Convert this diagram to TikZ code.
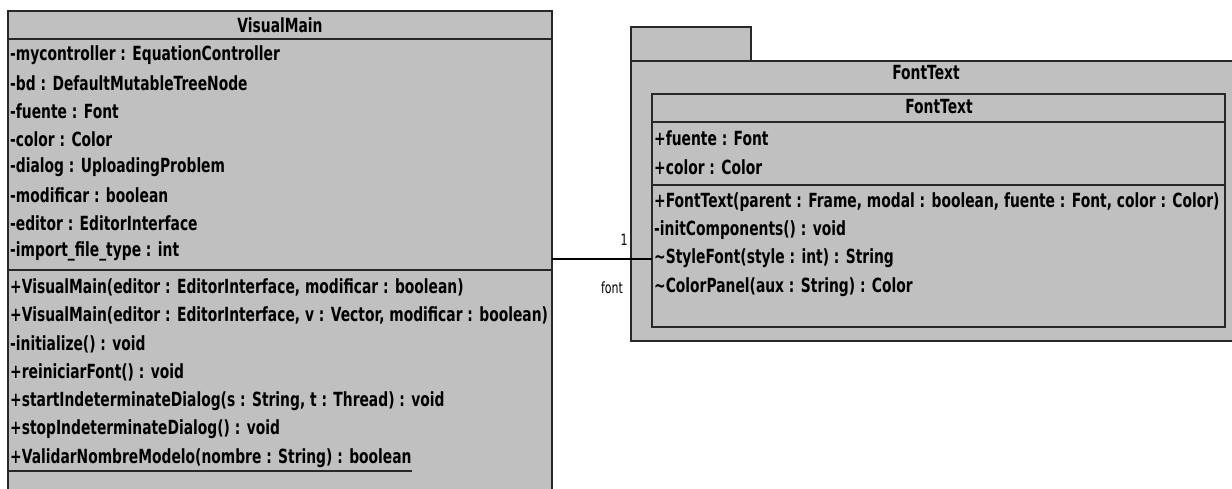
\documentclass[tikz,border=0pt]{standalone}
\usepackage{fontspec}
\setmainfont{DejaVu Sans}
\newfontfamily\umlfont{DejaVu Sans}[FakeStretch=0.71]
\definecolor{boxfill}{RGB}{192,192,192}
\definecolor{linec}{RGB}{40,40,40}
\tikzset{
  box/.style={draw=linec, fill=boxfill, line width=1.6pt, rectangle, inner sep=0pt, outer sep=0pt},
  sepline/.style={draw=linec, line width=1.6pt},
  txt/.style={anchor=west, inner sep=0pt, font=\umlfont\bfseries\fontsize{19.5}{21}\selectfont},
  ttl/.style={anchor=center, inner sep=0pt, font=\umlfont\bfseries\fontsize{19.5}{21}\selectfont},
  lbl/.style={anchor=center, inner sep=0pt, font=\umlfont\fontsize{15.5}{17}\selectfont},
  conn/.style={draw=black, line width=1.3pt}
}
\begin{document}
\begin{tikzpicture}[x=1pt,y=-1pt]
\clip (0,0) rectangle (1232,488);
\fill[white] (0,0) rectangle (1232,488);
% ---- VisualMain
\node[box, anchor=north west, minimum width=544pt, minimum height=490pt] (vm) at (8,11) {};
\draw[sepline] (8,39) -- (552,39);
\draw[sepline] (8,270) -- (552,270);
\node[ttl] (vmtitle) at (280,25) {VisualMain};
\node[txt] (a1) at (10,55) {-mycontroller : EquationController};
\node[txt] (a2) at (10,83) {-bd : DefaultMutableTreeNode};
\node[txt] (a3) at (10,111) {-fuente : Font};
\node[txt] (a4) at (10,139) {-color : Color};
\node[txt] (a5) at (10,167) {-dialog : UploadingProblem};
\node[txt] (a6) at (10,195) {-modificar : boolean};
\node[txt] (a7) at (10,223) {-editor : EditorInterface};
\node[txt] (a8) at (10,251) {-import\_file\_type : int};
\node[txt] (m1) at (10,287) {+VisualMain(editor : EditorInterface, modificar : boolean)};
\node[txt] (m2) at (10,315.5) {+VisualMain(editor : EditorInterface, v : Vector, modificar : boolean)};
\node[txt] (m3) at (10,344) {-initialize() : void};
\node[txt] (m4) at (10,372.5) {+reiniciarFont() : void};
\node[txt] (m5) at (10,401) {+startIndeterminateDialog(s : String, t : Thread) : void};
\node[txt] (m6) at (10,429.5) {+stopIndeterminateDialog() : void};
\node[txt] (m7) at (10,458) {+ValidarNombreModelo(nombre : String) : boolean};
\draw[draw=linec, line width=1.3pt] (8,471) -- (m7.east |- 0,471);
% ---- FontText package
\node[box, anchor=north west, minimum width=120pt, minimum height=34pt] (tab) at (631,27) {};
\node[box, anchor=north west, minimum width=610pt, minimum height=280pt] (pkg) at (631,61) {};
\node[ttl] (pkgtitle) at (926,73) {FontText};
\node[box, anchor=north west, minimum width=573pt, minimum height=233pt] (ft) at (652,94) {};
\draw[sepline] (652,122) -- (1225,122);
\draw[sepline] (652,185) -- (1225,185);
\node[ttl] (fttitle) at (939,107) {FontText};
\node[txt] (f1) at (654,138) {+fuente : Font};
\node[txt] (f2) at (654,167) {+color : Color};
\node[txt] (g1) at (654,202) {+FontText(parent : Frame, modal : boolean, fuente : Font, color : Color)};
\node[txt] (g2) at (654,230) {-initComponents() : void};
\node[txt] (g3) at (654,258) {\textasciitilde StyleFont(style : int) : String};
\node[txt] (g4) at (654,287) {\textasciitilde ColorPanel(aux : String) : Color};
% ---- association
\draw[conn] (vm.east |- 0,259) -- (ft.west |- 0,259);
\node[lbl] (mult) at (624,240) {1};
\node[lbl] (role) at (612,288) {font};
\end{tikzpicture}
\end{document}
